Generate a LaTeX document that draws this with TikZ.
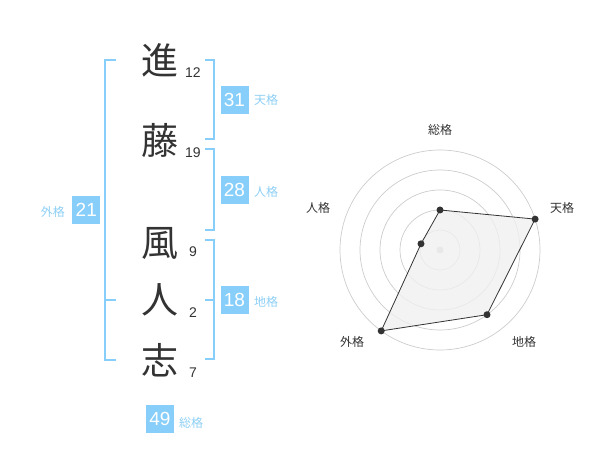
\documentclass[tikz,border=0pt]{standalone}
\usepackage{fontspec}
\setmainfont{Liberation Sans}
\newfontfamily\jp{Noto Sans CJK JP}
\definecolor{sky}{HTML}{87CEFA}
\definecolor{skytext}{HTML}{8DCFF5}
\definecolor{ink}{HTML}{333333}
\definecolor{ring}{HTML}{CCCCCC}
\begin{document}
\begin{tikzpicture}[x=1pt,y=-1pt,
  kanji/.style={text=ink,font=\jp\fontsize{37}{37}\selectfont,inner sep=0pt},
  strokes/.style={text=ink,font=\fontsize{14}{14}\selectfont,inner sep=0pt},
  numbox/.style={fill=sky,text=white,minimum width=28pt,minimum height=28pt,inner sep=0pt,font=\fontsize{19}{19}\selectfont},
  kaku/.style={text=skytext,font=\jp\fontsize{12}{12}\selectfont,inner sep=0pt},
  bracket/.style={draw=sky,line width=2pt},
  axislabel/.style={text=ink,font=\jp\fontsize{12}{12}\selectfont,inner sep=0pt},
  ringline/.style={draw=ring,line width=0.7pt},
  dot/.style={circle,fill=ink,inner sep=0pt,minimum size=7pt}]
\useasboundingbox (0,0) rectangle (600,470);
% characters
\node[kanji] (k1) at (160,60) {進};
\node[kanji] (k2) at (160,140) {藤};
\node[kanji] (k3) at (160,243) {風};
\node[kanji] (k4) at (160,300) {人};
\node[kanji] (k5) at (160,360) {志};
\node[strokes] (s1) at (193,73) {12};
\node[strokes] (s2) at (193,153) {19};
\node[strokes] (s3) at (193,252) {9};
\node[strokes] (s4) at (193,313) {2};
\node[strokes] (s5) at (193,373) {7};
% brackets
\draw[bracket] (116,60) -- (105,60) -- (105,360) -- (116,360);
\draw[bracket] (105,300) -- (116,300);
\draw[bracket] (205,60) -- (214,60) -- (214,139) -- (205,139);
\draw[bracket] (205,149) -- (214,149) -- (214,230) -- (205,230);
\draw[bracket] (205,240) -- (214,240) -- (214,359) -- (205,359);
\draw[bracket] (205,300) -- (214,300);
% boxes
\node[numbox] (ten) at (234.5,100) {31};
\node[kaku,anchor=west] (tenl) at (254,100) {天格};
\node[numbox] (jin) at (234.5,190) {28};
\node[kaku,anchor=west] (jinl) at (254,192) {人格};
\node[numbox] (chi) at (234.5,300) {18};
\node[kaku,anchor=west] (chil) at (254,302) {地格};
\node[numbox] (gai) at (86.3,210) {21};
\node[kaku,anchor=east] (gail) at (65,212) {外格};
\node[numbox] (sou) at (160,419) {49};
\node[kaku,anchor=west] (soul) at (179,423) {総格};
% radar
\coordinate (c) at (440,250);
\foreach \r in {20,40,60,80,100} \draw[ringline] (c) circle[radius=\r];
\fill[ring] (c) circle[radius=3.5];
\coordinate (pa) at (440,210);
\coordinate (pb) at (535.1,219.1);
\coordinate (pc) at (487.0,314.7);
\coordinate (pd) at (381.2,330.9);
\coordinate (pe) at (421.0,243.8);
\filldraw[fill=black!6,fill opacity=0.8,draw=ink,line width=0.8pt] (pa) -- (pb) -- (pc) -- (pd) -- (pe) -- cycle;
\foreach \p in {pa,pb,pc,pd,pe} \node[dot] at (\p) {};
\node[axislabel] (la) at (440,130) {総格};
\node[axislabel] (lb) at (562,208) {天格};
\node[axislabel] (lc) at (524,342) {地格};
\node[axislabel] (ld) at (352,342) {外格};
\node[axislabel] (le) at (318,208) {人格};
\end{tikzpicture}
\end{document}
